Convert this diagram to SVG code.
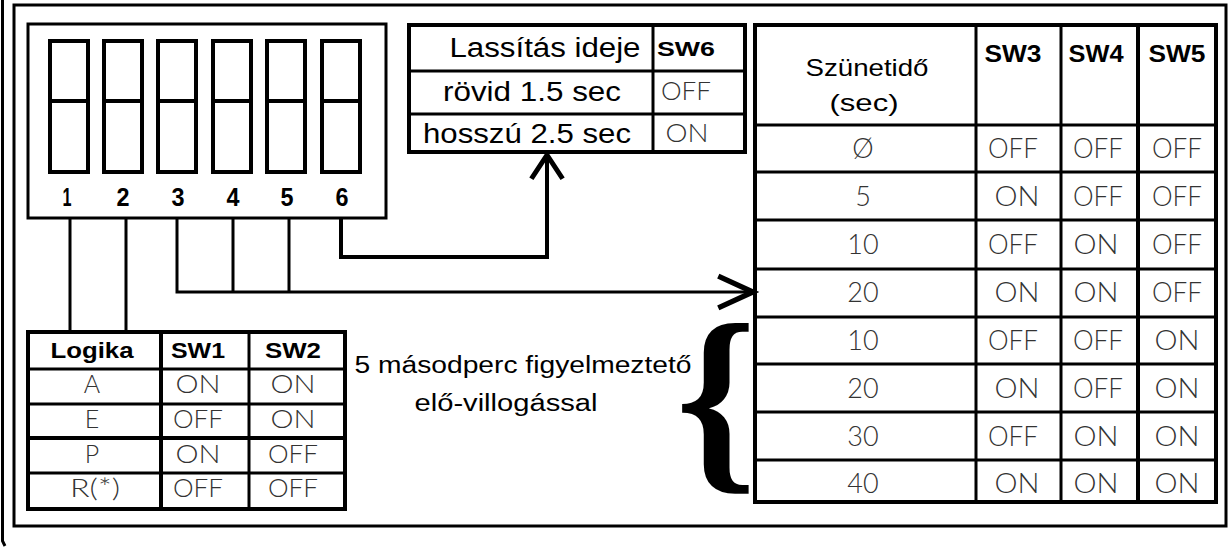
<svg xmlns="http://www.w3.org/2000/svg" width="1232" height="549" viewBox="0 0 1232 549">
<defs>
<style>
.ln{stroke:#000;fill:none;stroke-width:3}
.thk{stroke:#000;fill:none;stroke-width:4}
.t{font-family:"Liberation Sans",Arial,sans-serif;fill:#000;text-anchor:middle}
.b{font-weight:bold}
.v{font-family:Lato,"Open Sans","Liberation Sans",sans-serif;font-weight:300;fill:#333;text-anchor:middle;font-size:25px}
.vb{font-size:27px}
.num{font-family:"Liberation Sans",Arial,sans-serif;font-weight:bold;font-size:25px;text-anchor:middle}
</style>
<marker id="ahUp" markerUnits="userSpaceOnUse" markerWidth="40" markerHeight="40" viewBox="-22 -16 24 32" refX="0" refY="0" orient="auto" overflow="visible">
<path d="M-19,-12.5 L0,0 L-19,12.5" fill="none" stroke="#000" stroke-width="4"/>
</marker>
<marker id="ahRight" markerUnits="userSpaceOnUse" markerWidth="40" markerHeight="40" viewBox="-36 -18 38 36" refX="0" refY="0" orient="auto" overflow="visible">
<path d="M-33,-15 L0,0 L-33,15" fill="none" stroke="#000" stroke-width="5"/>
</marker>
</defs>
<rect width="1232" height="549" fill="#fff"/>
<g id="frame">
<path class="ln" d="M2.5,0 V541 L5,546"/>
<rect class="ln" x="14" y="5" width="1212" height="521"/>
</g>
<g id="switches">
<rect class="ln" x="28" y="24" width="358" height="194"/>
<g class="thk">
<rect x="50" y="41" width="38" height="131"/><line x1="50" y1="101" x2="88" y2="101"/>
<rect x="104" y="41" width="38" height="131"/><line x1="104" y1="101" x2="142" y2="101"/>
<rect x="158" y="41" width="38" height="131"/><line x1="158" y1="101" x2="196" y2="101"/>
<rect x="213" y="41" width="38" height="131"/><line x1="213" y1="101" x2="251" y2="101"/>
<rect x="267" y="41" width="38" height="131"/><line x1="267" y1="101" x2="305" y2="101"/>
<rect x="322" y="41" width="38" height="131"/><line x1="322" y1="101" x2="360" y2="101"/>
</g>
<text class="num" x="67" y="206" textLength="9" lengthAdjust="spacingAndGlyphs">1</text>
<text class="num" x="123" y="206" textLength="13" lengthAdjust="spacingAndGlyphs">2</text>
<text class="num" x="178" y="206" textLength="13" lengthAdjust="spacingAndGlyphs">3</text>
<text class="num" x="233" y="206" textLength="13" lengthAdjust="spacingAndGlyphs">4</text>
<text class="num" x="287" y="206" textLength="13" lengthAdjust="spacingAndGlyphs">5</text>
<text class="num" x="342" y="206" textLength="13" lengthAdjust="spacingAndGlyphs">6</text>
</g>
<g id="sw6-table">
<rect class="thk" x="409" y="25" width="336" height="127"/>
<line class="ln" x1="409" y1="71" x2="745" y2="71"/>
<line class="ln" x1="409" y1="114" x2="745" y2="114"/>
<line class="ln" x1="653" y1="25" x2="653" y2="152"/>
<text class="t" x="545" y="57" font-size="27" textLength="191" lengthAdjust="spacingAndGlyphs">Lassítás ideje</text>
<text class="t b" x="686" y="56" font-size="21" textLength="58" lengthAdjust="spacingAndGlyphs">SW6</text>
<text class="t" x="532" y="101" font-size="27" textLength="178" lengthAdjust="spacingAndGlyphs">rövid 1.5 sec</text>
<text class="t" x="527" y="143" font-size="27" textLength="208" lengthAdjust="spacingAndGlyphs">hosszú 2.5 sec</text>
<text class="v" x="686" y="100" textLength="50" lengthAdjust="spacingAndGlyphs">OFF</text>
<text class="v" x="687" y="142" textLength="43" lengthAdjust="spacingAndGlyphs">ON</text>
</g>
<g id="pause-table">
<rect class="thk" x="755" y="25" width="461" height="477"/>
<g class="ln">
<line x1="976" y1="25" x2="976" y2="502"/>
<line x1="1061" y1="25" x2="1061" y2="502"/>
<line x1="1138" y1="25" x2="1138" y2="502" stroke-width="4"/>
<line x1="755" y1="125" x2="1216" y2="125"/>
<line x1="755" y1="172" x2="1216" y2="172"/>
<line x1="755" y1="220" x2="1216" y2="220"/>
<line x1="755" y1="269" x2="1216" y2="269"/>
<line x1="755" y1="317" x2="1216" y2="317"/>
<line x1="755" y1="364" x2="1216" y2="364"/>
<line x1="755" y1="412" x2="1216" y2="412"/>
<line x1="755" y1="460" x2="1216" y2="460"/>
</g>
<text class="t" x="867" y="76" font-size="24" textLength="123" lengthAdjust="spacingAndGlyphs">Szünetidő</text>
<text class="t" x="864" y="111" font-size="24" textLength="69" lengthAdjust="spacingAndGlyphs">(sec)</text>
<text class="t b" x="1013" y="62" font-size="23" textLength="57" lengthAdjust="spacingAndGlyphs">SW3</text>
<text class="t b" x="1096" y="62" font-size="23" textLength="55" lengthAdjust="spacingAndGlyphs">SW4</text>
<text class="t b" x="1177" y="62" font-size="23" textLength="57" lengthAdjust="spacingAndGlyphs">SW5</text>
<g>
<text class="v vb" x="863" y="158">Ø</text>
<text class="v vb" x="1013" y="158" textLength="50" lengthAdjust="spacingAndGlyphs">OFF</text>
<text class="v vb" x="1098" y="158" textLength="50" lengthAdjust="spacingAndGlyphs">OFF</text>
<text class="v vb" x="1177" y="158" textLength="50" lengthAdjust="spacingAndGlyphs">OFF</text>

<text class="v vb" x="863" y="206">5</text>
<text class="v vb" x="1017" y="206" textLength="45" lengthAdjust="spacingAndGlyphs">ON</text>
<text class="v vb" x="1098" y="206" textLength="50" lengthAdjust="spacingAndGlyphs">OFF</text>
<text class="v vb" x="1177" y="206" textLength="50" lengthAdjust="spacingAndGlyphs">OFF</text>

<text class="v vb" x="863" y="254">10</text>
<text class="v vb" x="1013" y="254" textLength="50" lengthAdjust="spacingAndGlyphs">OFF</text>
<text class="v vb" x="1096" y="254" textLength="45" lengthAdjust="spacingAndGlyphs">ON</text>
<text class="v vb" x="1177" y="254" textLength="50" lengthAdjust="spacingAndGlyphs">OFF</text>

<text class="v vb" x="863" y="302">20</text>
<text class="v vb" x="1017" y="302" textLength="45" lengthAdjust="spacingAndGlyphs">ON</text>
<text class="v vb" x="1096" y="302" textLength="45" lengthAdjust="spacingAndGlyphs">ON</text>
<text class="v vb" x="1177" y="302" textLength="50" lengthAdjust="spacingAndGlyphs">OFF</text>

<text class="v vb" x="863" y="350">10</text>
<text class="v vb" x="1013" y="350" textLength="50" lengthAdjust="spacingAndGlyphs">OFF</text>
<text class="v vb" x="1098" y="350" textLength="50" lengthAdjust="spacingAndGlyphs">OFF</text>
<text class="v vb" x="1177" y="350" textLength="45" lengthAdjust="spacingAndGlyphs">ON</text>

<text class="v vb" x="863" y="398">20</text>
<text class="v vb" x="1017" y="398" textLength="45" lengthAdjust="spacingAndGlyphs">ON</text>
<text class="v vb" x="1098" y="398" textLength="50" lengthAdjust="spacingAndGlyphs">OFF</text>
<text class="v vb" x="1177" y="398" textLength="45" lengthAdjust="spacingAndGlyphs">ON</text>

<text class="v vb" x="863" y="446">30</text>
<text class="v vb" x="1013" y="446" textLength="50" lengthAdjust="spacingAndGlyphs">OFF</text>
<text class="v vb" x="1096" y="446" textLength="45" lengthAdjust="spacingAndGlyphs">ON</text>
<text class="v vb" x="1177" y="446" textLength="45" lengthAdjust="spacingAndGlyphs">ON</text>

<text class="v vb" x="863" y="493">40</text>
<text class="v vb" x="1017" y="493" textLength="45" lengthAdjust="spacingAndGlyphs">ON</text>
<text class="v vb" x="1096" y="493" textLength="45" lengthAdjust="spacingAndGlyphs">ON</text>
<text class="v vb" x="1177" y="493" textLength="45" lengthAdjust="spacingAndGlyphs">ON</text>
</g>
</g>
<g id="logic-table">
<rect class="thk" x="28" y="332" width="317" height="177"/>
<g class="ln">
<line x1="161" y1="332" x2="161" y2="509" stroke-width="4"/>
<line x1="249" y1="332" x2="249" y2="509"/>
<line x1="28" y1="369" x2="345" y2="369"/>
<line x1="28" y1="404" x2="345" y2="404"/>
<line x1="28" y1="438" x2="345" y2="438" stroke-width="4"/>
<line x1="28" y1="473" x2="345" y2="473"/>
</g>
<text class="t b" x="92" y="358" font-size="22" textLength="83" lengthAdjust="spacingAndGlyphs">Logika</text>
<text class="t b" x="198" y="358" font-size="22" textLength="54" lengthAdjust="spacingAndGlyphs">SW1</text>
<text class="t b" x="293" y="358" font-size="22" textLength="56" lengthAdjust="spacingAndGlyphs">SW2</text>
<text class="v" x="92" y="393">A</text>
<text class="v" x="198" y="393" textLength="45" lengthAdjust="spacingAndGlyphs">ON</text>
<text class="v" x="293" y="393" textLength="45" lengthAdjust="spacingAndGlyphs">ON</text>
<text class="v" x="92" y="428">E</text>
<text class="v" x="198" y="428" textLength="50" lengthAdjust="spacingAndGlyphs">OFF</text>
<text class="v" x="293" y="428" textLength="45" lengthAdjust="spacingAndGlyphs">ON</text>
<text class="v" x="92" y="463">P</text>
<text class="v" x="198" y="463" textLength="45" lengthAdjust="spacingAndGlyphs">ON</text>
<text class="v" x="293" y="463" textLength="50" lengthAdjust="spacingAndGlyphs">OFF</text>
<text class="v" x="95" y="497" textLength="50" lengthAdjust="spacingAndGlyphs">R(*)</text>
<text class="v" x="198" y="497" textLength="50" lengthAdjust="spacingAndGlyphs">OFF</text>
<text class="v" x="293" y="497" textLength="50" lengthAdjust="spacingAndGlyphs">OFF</text>
</g>
<g id="note">
<text class="t" x="523" y="373" font-size="23" textLength="337" lengthAdjust="spacingAndGlyphs">5 másodperc figyelmeztető</text>
<text class="t" x="506" y="411" font-size="23" textLength="183" lengthAdjust="spacingAndGlyphs">elő-villogással</text>
<text x="716" y="466" font-family="'Liberation Serif','Times New Roman',serif" font-weight="bold" font-size="206" text-anchor="middle">{</text>
</g>
<g id="connectors">
<path class="ln" d="M70,218 V332 M126,218 V332"/>
<path class="ln" d="M233,218 V292 M289,218 V292"/>
<path class="ln" d="M177,218 V292 H753" marker-end="url(#ahRight)"/>
<path class="thk" d="M341,218 V257 H547 V155" marker-end="url(#ahUp)"/>
</g>
</svg>
